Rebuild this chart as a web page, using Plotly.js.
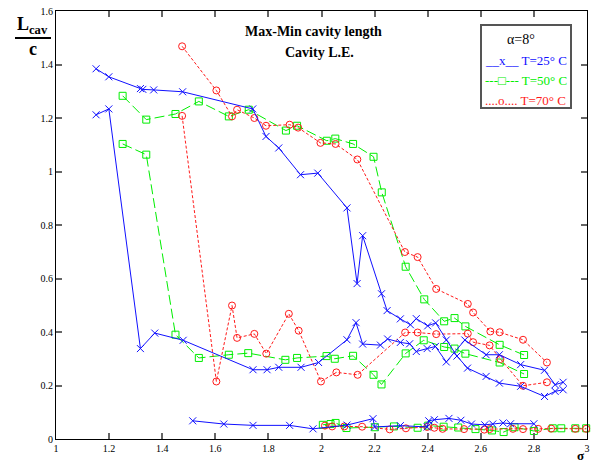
<!DOCTYPE html>
<html><head><meta charset="utf-8">
<script src="https://cdn.plot.ly/plotly-3.0.1.min.js"></script>
<style>html,body{margin:0;padding:0;background:#fff}#c{width:593px;height:465px}</style>
</head><body><div id="c"></div>
<script>
// T = 25 C (blue), three branches
const b1x = [1.151,1.199,1.318,1.327,1.368,1.477,1.741,1.791,1.839,1.921,1.986,2.096,2.134,2.155,2.226,2.247,2.297,2.335,2.357,2.40,2.43,2.47,2.51,2.55,2.62,2.67,2.75,2.84,2.88,2.91];
const b1y = [1.384,1.354,1.310,1.307,1.305,1.298,1.234,1.131,1.088,0.988,0.994,0.864,0.581,0.760,0.543,0.480,0.449,0.427,0.450,0.423,0.434,0.370,0.310,0.265,0.234,0.209,0.197,0.159,0.178,0.184];
const b2x = [1.151,1.199,1.318,1.372,1.479,1.742,1.795,1.839,1.923,1.989,2.096,2.130,2.155,2.222,2.249,2.297,2.332,2.357,2.398,2.429,2.47,2.54,2.62,2.67,2.75,2.84,2.88,2.91];
const b2y = [1.212,1.234,0.338,0.396,0.369,0.259,0.259,0.268,0.268,0.286,0.371,0.435,0.355,0.351,0.374,0.361,0.356,0.327,0.338,0.346,0.288,0.370,0.315,0.315,0.278,0.257,0.203,0.212];
const b3x = [1.515,1.632,1.742,1.880,1.968,2.096,2.194,2.200,2.297,2.398,2.404,2.425,2.480,2.525,2.565,2.615,2.645,2.684,2.712,2.800];
const b3y = [0.068,0.056,0.051,0.051,0.038,0.052,0.076,0.045,0.050,0.045,0.068,0.072,0.077,0.070,0.056,0.053,0.056,0.060,0.057,0.057];
// T = 50 C (green)
const g1x = [1.251,1.340,1.450,1.538,1.651,1.726,1.866,1.908,2.020,2.052,2.119,2.196,2.227,2.317,2.387,2.462,2.501,2.542,2.671,2.763];
const g1y = [1.283,1.194,1.215,1.262,1.206,1.231,1.153,1.171,1.115,1.123,1.103,1.055,0.922,0.644,0.522,0.440,0.452,0.421,0.352,0.314];
const g2x = [1.251,1.340,1.450,1.538,1.651,1.724,1.864,1.908,2.019,2.050,2.119,2.196,2.226,2.317,2.385,2.462,2.501,2.542,2.671,2.763];
const g2y = [1.103,1.063,0.390,0.303,0.315,0.321,0.296,0.303,0.310,0.300,0.311,0.240,0.204,0.320,0.369,0.344,0.338,0.319,0.286,0.243];
const g3x = [2.005,2.034,2.053,2.094,2.201,2.273,2.362,2.402,2.460,2.515,2.580,2.642,2.686,2.727,2.800,2.871,2.903,2.956,2.997];
const g3y = [0.053,0.056,0.060,0.041,0.044,0.047,0.042,0.050,0.046,0.043,0.037,0.032,0.026,0.044,0.030,0.040,0.040,0.040,0.040];
// T = 70 C (red)
const r1x = [1.475,1.604,1.663,1.682,1.747,1.791,1.880,1.912,1.996,2.053,2.135,2.314,2.362,2.432,2.551,2.571,2.636,2.671,2.759,2.849];
const r1y = [1.468,1.303,1.206,1.231,1.200,1.171,1.175,1.164,1.107,1.103,1.045,0.699,0.680,0.561,0.505,0.473,0.402,0.399,0.371,0.286];
const r2x = [1.475,1.604,1.663,1.682,1.747,1.792,1.877,1.914,1.998,2.056,2.136,2.315,2.362,2.432,2.551,2.571,2.633,2.674,2.759,2.849];
const r2y = [1.208,0.215,0.499,0.378,0.393,0.319,0.468,0.405,0.215,0.249,0.240,0.398,0.398,0.392,0.394,0.362,0.350,0.299,0.199,0.212];
const r3x = [2.013,2.040,2.086,2.153,2.257,2.318,2.398,2.425,2.456,2.537,2.613,2.633,2.721,2.759,2.816,2.865,2.956,2.997];
const r3y = [0.050,0.047,0.047,0.046,0.036,0.040,0.045,0.042,0.038,0.037,0.035,0.037,0.038,0.037,0.038,0.039,0.038,0.038];

const BLUE = '#1010ff', GREEN = '#00ee00', RED = '#ff1a1a';
const SERIF = '"Liberation Serif", "DejaVu Serif", serif';

function tr(x, y, color, dash, symbol) {
  return {
    x: x, y: y, type: 'scatter', mode: 'lines+markers', showlegend: false,
    line: {color: color, width: 1, dash: dash},
    marker: {symbol: symbol, size: 7, color: color, line: {color: color, width: 1}},
    cliponaxis: false
  };
}
const data = [
  tr(g1x, g1y, GREEN, '10px,4px', 'square-open'),
  tr(g2x, g2y, GREEN, '10px,4px', 'square-open'),
  tr(g3x, g3y, GREEN, '10px,4px', 'square-open'),
  tr(r1x, r1y, RED, '3px,2px', 'circle-open'),
  tr(r2x, r2y, RED, '3px,2px', 'circle-open'),
  tr(r3x, r3y, RED, '3px,2px', 'circle-open'),
  tr(b1x, b1y, BLUE, 'solid', 'x-thin-open'),
  tr(b2x, b2y, BLUE, 'solid', 'x-thin-open'),
  tr(b3x, b3y, BLUE, 'solid', 'x-thin-open')
];

const L = 56, R = 6, T = 11, B = 26, W = 593, H = 465;
const pw = W - L - R, ph = H - T - B;
const px = v => (v - L) / pw, py = v => (H - B - v) / ph;

function ann(x, y, text, size, color, xanchor) {
  return {xref: 'paper', yref: 'paper', x: px(x), y: py(y), text: text, showarrow: false,
    xanchor: xanchor || 'center', yanchor: 'middle',
    font: {family: SERIF, size: size, color: color || '#000'}};
}

const axisCommon = {
  showgrid: false, zeroline: false, showline: true, linecolor: '#000', linewidth: 1,
  mirror: 'ticks', ticks: 'inside', ticklen: 6, tickwidth: 2, tickcolor: '#666',
  dtick: 0.2, tickfont: {family: SERIF, size: 10, color: '#000'}
};

const layout = {
  width: W, height: H, margin: {l: L, r: R, t: T, b: B},
  paper_bgcolor: '#fff', plot_bgcolor: '#fff', showlegend: false,
  xaxis: Object.assign({}, axisCommon, {range: [1, 3], tick0: 1, ticklabelstandoff: 0}),
  yaxis: Object.assign({}, axisCommon, {range: [0, 1.6], tick0: 0, ticklabelstandoff: 0}),
  shapes: [
    {type: 'rect', xref: 'paper', yref: 'paper', x0: px(481), x1: px(571), y0: py(25), y1: py(108),
     line: {color: '#555', width: 2}, fillcolor: 'rgba(0,0,0,0)'},
    {type: 'line', xref: 'paper', yref: 'paper', x0: px(15), x1: px(51), y0: py(38), y1: py(38),
     line: {color: '#000', width: 2}}
  ],
  annotations: [
    ann(313, 31, '<b>Max-Min cavity length</b>', 14),
    ann(319, 52, '<b>Cavity L.E.</b>', 14),
    ann(32, 26, '<b>L<sub>cav</sub></b>', 18, '#000'),
    ann(33, 49, '<b>c</b>', 18, '#000'),
    ann(580, 456, '<b>σ</b>', 13, '#000'),
    ann(521, 39, 'α=8°', 14, '#000'),
    ann(483, 60, '__x__ T=25° C', 13, BLUE, 'left'),
    ann(483, 80, '---□--- T=50° C', 13, GREEN, 'left'),
    ann(483, 100, '....o.... T=70° C', 13, RED, 'left')
  ]
};

Plotly.newPlot('c', data, layout, {staticPlot: true, displayModeBar: false});
</script>
</body></html>
